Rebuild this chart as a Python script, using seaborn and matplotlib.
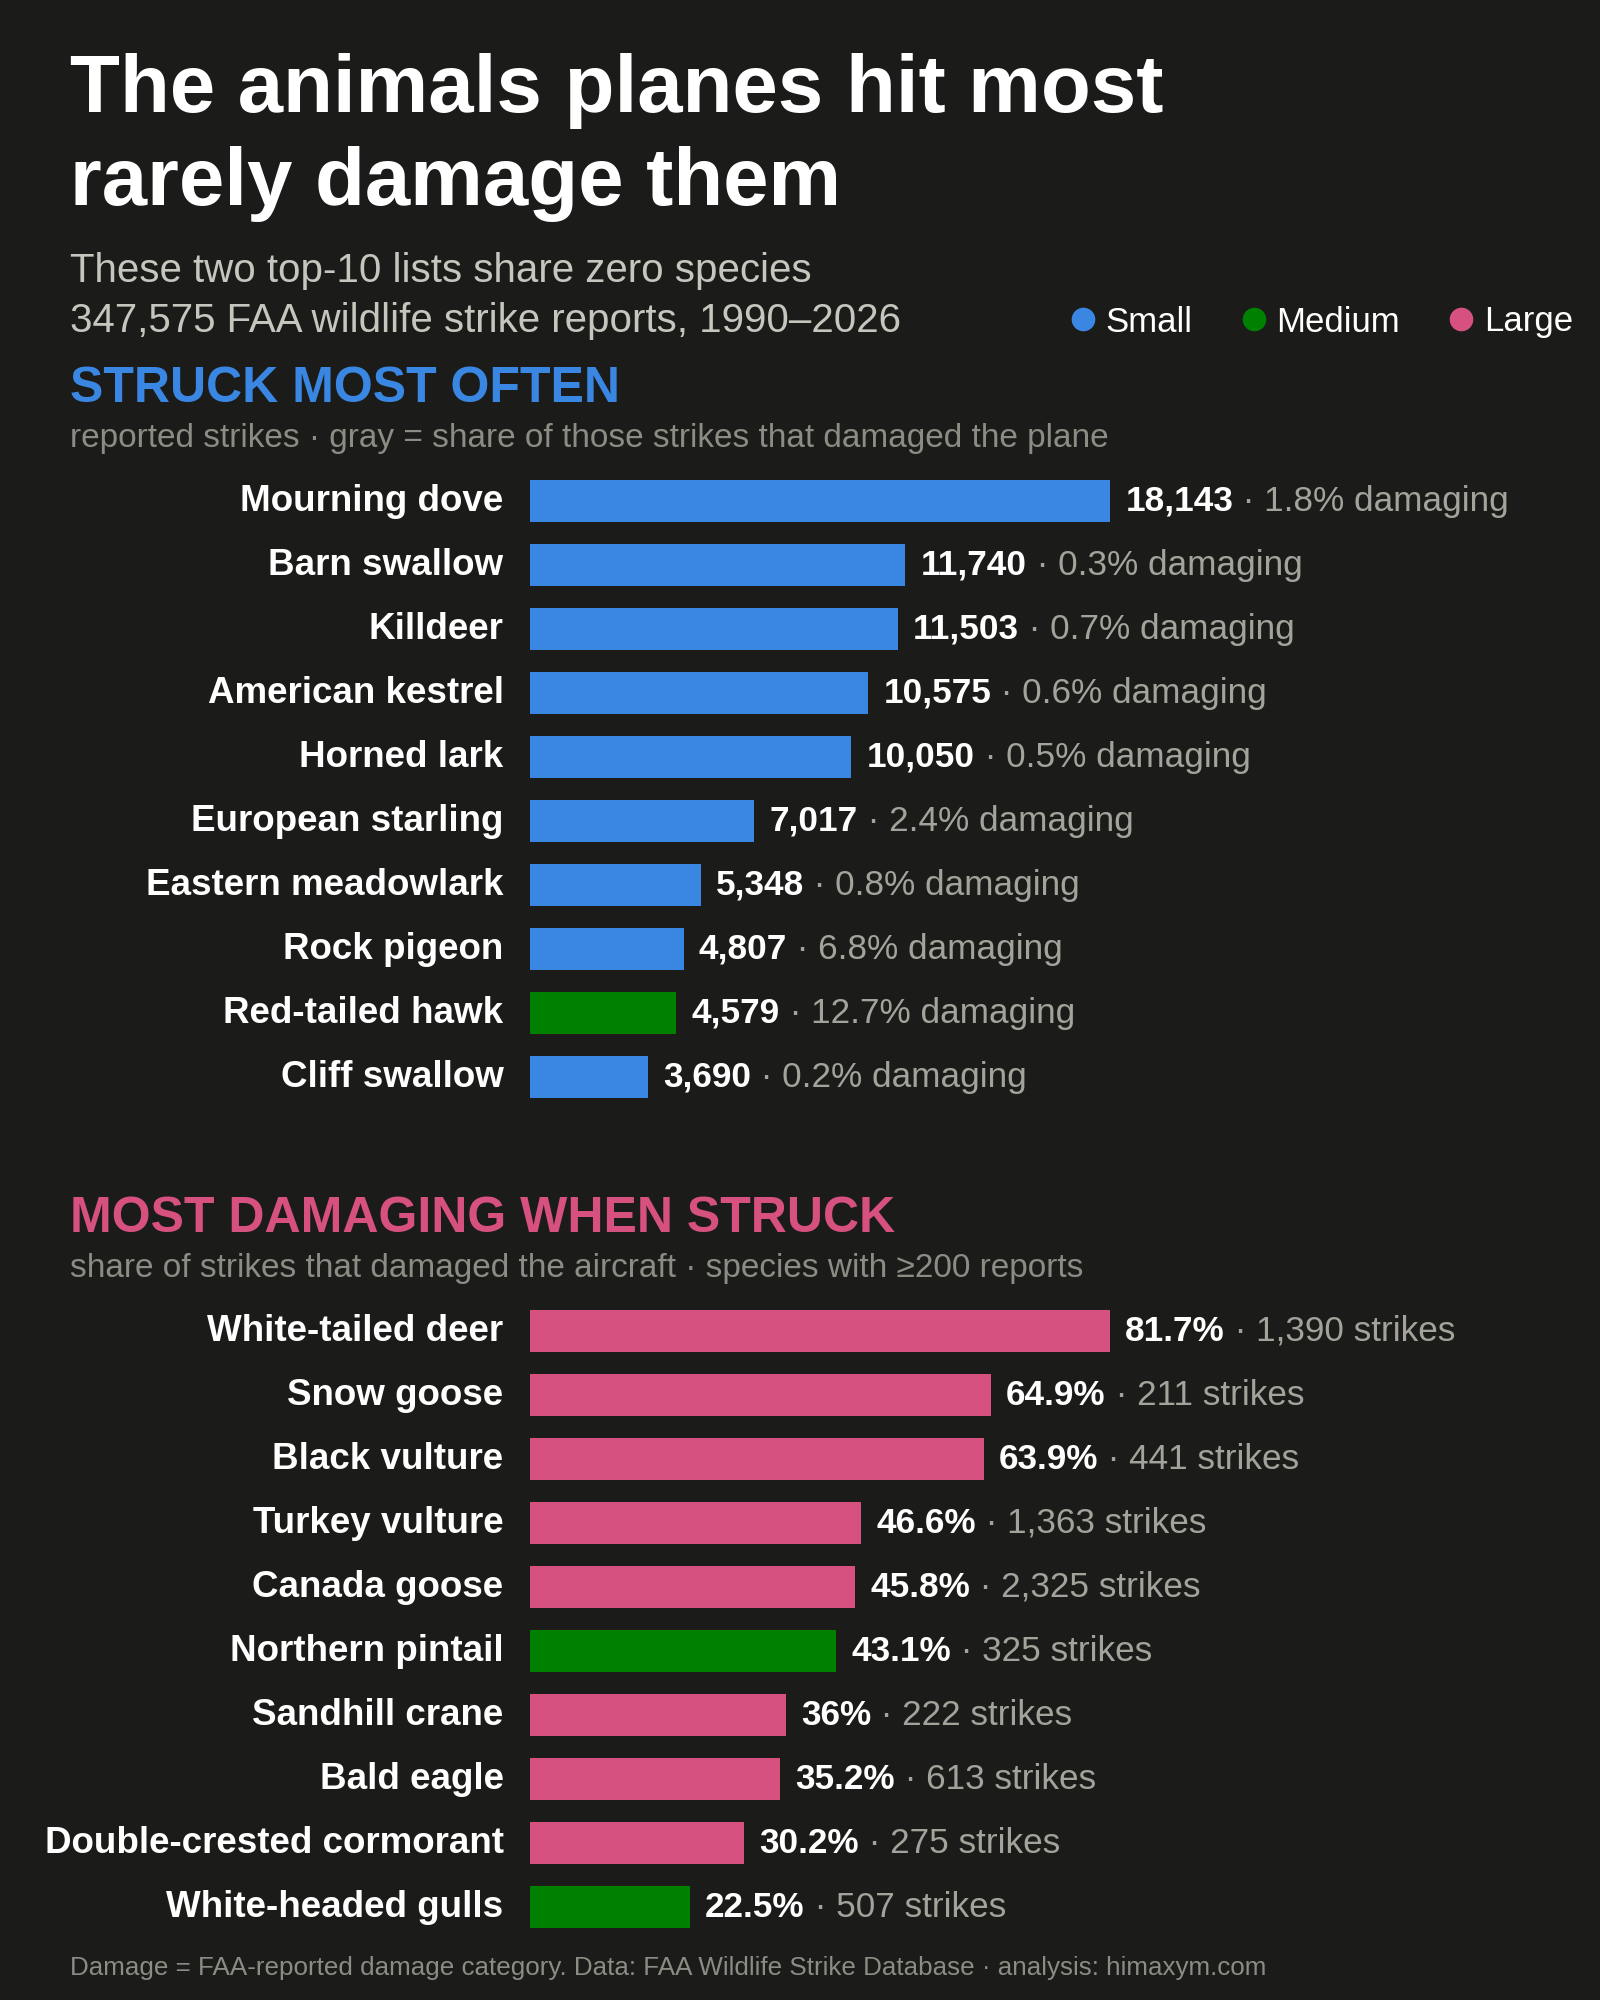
import matplotlib
matplotlib.use("Agg")
import matplotlib.pyplot as plt
from matplotlib.lines import Line2D
from matplotlib.transforms import ScaledTranslation
import pandas as pd
import seaborn as sns

# --- data ---
often_species = ["Mourning dove", "Barn swallow", "Killdeer", "American kestrel", "Horned lark",
                 "European starling", "Eastern meadowlark", "Rock pigeon", "Red-tailed hawk", "Cliff swallow"]
often_strikes = [18143, 11740, 11503, 10575, 10050, 7017, 5348, 4807, 4579, 3690]
often_damage_pct = [1.8, 0.3, 0.7, 0.6, 0.5, 2.4, 0.8, 6.8, 12.7, 0.2]
often_size = ["Small", "Small", "Small", "Small", "Small", "Small", "Small", "Small", "Medium", "Small"]

damaging_species = ["White-tailed deer", "Snow goose", "Black vulture", "Turkey vulture", "Canada goose",
                    "Northern pintail", "Sandhill crane", "Bald eagle", "Double-crested cormorant", "White-headed gulls"]
damaging_pct = [81.7, 64.9, 63.9, 46.6, 45.8, 43.1, 36.0, 35.2, 30.2, 22.5]
damaging_strikes = [1390, 211, 441, 1363, 2325, 325, 222, 613, 275, 507]
damaging_size = ["Large", "Large", "Large", "Large", "Large", "Medium", "Large", "Large", "Large", "Medium"]

size_levels = ["Small", "Medium", "Large"]
size_colors = {"Small": "#3a87e3", "Medium": "#008000", "Large": "#d6517f"}

BG = "#1b1b19"
WHITE = "#ffffff"
GRAY_SUB = "#c6c6be"
GRAY_NOTE = "#8c8c84"
GRAY_VAL = "#a3a39b"

W, H = 1600, 2000

sns.set_theme(style="white")
plt.rcParams["font.family"] = ["Liberation Sans", "DejaVu Sans"]

fig = plt.figure(figsize=(16, 20), dpi=100, facecolor=BG)


def fx(px):
    return px / W


def fy(px):
    return 1 - px / H


# --- header ---
fig.text(fx(70), fy(112), "The animals planes hit most", color=WHITE, fontsize=58.8,
         fontweight="bold", va="baseline")
fig.text(fx(70), fy(205), "rarely damage them", color=WHITE, fontsize=58.8,
         fontweight="bold", va="baseline")
fig.text(fx(70), fy(282), "These two top-10 lists share zero species", color=GRAY_SUB,
         fontsize=29, va="baseline")
fig.text(fx(70), fy(332), "347,575 FAA wildlife strike reports, 1990\u20132026", color=GRAY_SUB,
         fontsize=29, va="baseline")

handles = [Line2D([], [], marker="o", linestyle="", markersize=17,
                  markerfacecolor=size_colors[s], markeredgewidth=0) for s in size_levels]
leg = fig.legend(handles, size_levels, loc="center right", bbox_to_anchor=(fx(1573), fy(322)),
                 ncol=3, frameon=False, fontsize=25, handlelength=0.7, handletextpad=0.3,
                 columnspacing=1.42, borderpad=0, borderaxespad=0)
for t in leg.get_texts():
    t.set_color(WHITE)

BAR_MAX_PX = 580
AX_LEFT, AX_W = 530, 1000
ROW_PX = 64
TEXT_LIFT = ScaledTranslation(0, 2.4 / 72, fig.dpi_scale_trans)


def section(top_px, title, title_color, note, species, values, sizes, fmt_main, fmt_rest, rest):
    fig.text(fx(70), fy(top_px), title, color=title_color, fontsize=36, fontweight="bold",
             va="baseline")
    fig.text(fx(70), fy(top_px + 45), note, color=GRAY_NOTE, fontsize=24.05, va="baseline")

    first_center = top_px + 99
    ax_top = first_center - ROW_PX / 2
    ax_h = ROW_PX * len(species)
    ax = fig.add_axes([fx(AX_LEFT), (H - ax_top - ax_h) / H, AX_W / W, ax_h / H])
    ax.set_facecolor(BG)

    df = pd.DataFrame({"species": species, "value": values, "size": sizes})
    sns.barplot(data=df, y="species", x="value", hue="size", palette=size_colors,
                hue_order=size_levels, order=species, dodge=False, width=0.656,
                orient="h", legend=False, saturation=1, linewidth=0, ax=ax)

    ax.set_xlim(0, max(values) * AX_W / BAR_MAX_PX)
    ax.set_ylim(len(species) - 0.5, -0.5)
    ax.set_xlabel("")
    ax.set_ylabel("")
    ax.set_xticks([])
    sns.despine(ax=ax, left=True, bottom=True)
    ax.tick_params(axis="y", length=0, pad=19, labelsize=26.5, labelcolor=WHITE)
    for tick in ax.yaxis.get_major_ticks():
        tick.label1.set_fontweight("bold")
        tick.label1.set_transform(tick.label1.get_transform() + TEXT_LIFT)

    for i, v in enumerate(values):
        t1 = ax.annotate(fmt_main(v), xy=(v, i), xytext=(11, 2.4), textcoords="offset points",
                         va="center_baseline", ha="left", color=WHITE, fontsize=25.3,
                         fontweight="bold")
        ax.annotate(fmt_rest(rest[i]), xy=(1, 0), xycoords=t1, va="bottom", ha="left",
                    color=GRAY_VAL, fontsize=25.3)
    return ax


section(402, "STRUCK MOST OFTEN", size_colors["Small"],
        "reported strikes \u00b7 gray = share of those strikes that damaged the plane",
        often_species, often_strikes, often_size,
        lambda v: f"{v:,}", lambda r: f" \u00b7 {r:.1f}% damaging", often_damage_pct)

section(1232, "MOST DAMAGING WHEN STRUCK", size_colors["Large"],
        "share of strikes that damaged the aircraft \u00b7 species with \u2265200 reports",
        damaging_species, damaging_pct, damaging_size,
        lambda v: f"{v:g}%", lambda r: f" \u00b7 {r:,} strikes", damaging_strikes)

fig.text(fx(70), fy(1975),
         "Damage = FAA-reported damage category. Data: FAA Wildlife Strike Database \u00b7 analysis: himaxym.com",
         color=GRAY_NOTE, fontsize=18.75, va="baseline")

fig.savefig("out.png", dpi=100, facecolor=BG)
